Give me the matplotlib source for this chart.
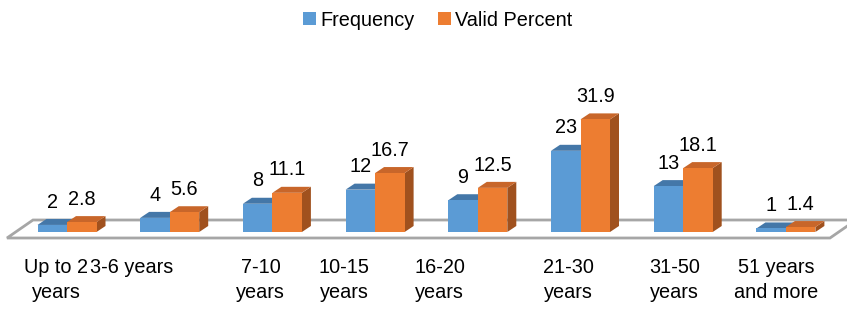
import matplotlib
matplotlib.use("Agg")
import matplotlib.pyplot as plt
from matplotlib.patches import Polygon
from matplotlib.patches import Patch

# ---- data ----
categories = ["Up to 2\nyears", "3-6 years", "7-10\nyears", "10-15\nyears",
              "16-20\nyears", "21-30\nyears", "31-50\nyears", "51 years\nand more"]
frequency = [2, 4, 8, 12, 9, 23, 13, 1]
valid_percent = [2.8, 5.6, 11.1, 16.7, 12.5, 31.9, 18.1, 1.4]
series_names = ["Frequency", "Valid Percent"]

# ---- style / layout ----
W, H = 847, 309
PX_PER_CAT = 102.7
PX_PER_UNIT = 3.53
X0_PX = 67          # pixel x of first category centre
Y0_PX = 232         # pixel y (from top) of value 0
BAR_W = 29.5 / PX_PER_CAT
DX = 9 / PX_PER_CAT          # depth offset x
DY = 6 / PX_PER_UNIT         # depth offset y
label_shift_px = [-11, -38, -12, -31, -38, -12, -9, -10]

front = ["#5B9BD5", "#ED7D31"]
top = ["#4477A8", "#C8662A"]
side = ["#3D6C98", "#A0511E"]
FONT = ["Liberation Sans", "DejaVu Sans"]
FS = 14.3
plt.rcParams["font.family"] = FONT

fig = plt.figure(figsize=(W / 100, H / 100), dpi=100)
ax = fig.add_axes([0, 0, 1, 1])
ax.set_xlim(-X0_PX / PX_PER_CAT, (W - X0_PX) / PX_PER_CAT)
ax.set_ylim(-(H - Y0_PX) / PX_PER_UNIT, Y0_PX / PX_PER_UNIT)
ax.axis("off")

# floor plate
fl_front_y = -6 / PX_PER_UNIT
fl_back_y = 12 / PX_PER_UNIT
fl_left = (7 - X0_PX) / PX_PER_CAT
fl_right = (830 - X0_PX) / PX_PER_CAT
fl_dx = 26 / PX_PER_CAT
floor = Polygon([(fl_left, fl_front_y), (fl_right, fl_front_y),
                 (fl_right + fl_dx, fl_back_y), (fl_left + fl_dx, fl_back_y)],
                closed=True, facecolor="white", edgecolor="#A6A6A6", lw=2, zorder=1)
ax.add_patch(floor)

def bar3d(x_left, h, k):
    xr = x_left + BAR_W
    ax.add_patch(Polygon([(xr, 0), (xr + DX, DY), (xr + DX, h + DY), (xr, h)],
                         closed=True, facecolor=side[k], edgecolor="none", zorder=2 + k))
    ax.add_patch(Polygon([(x_left, h), (xr, h), (xr + DX, h + DY), (x_left + DX, h + DY)],
                         closed=True, facecolor=top[k], edgecolor="none", zorder=2 + k))

for i in range(len(categories)):
    bar3d(i - BAR_W, frequency[i], 0)
    bar3d(i, valid_percent[i], 1)

ax.bar([i - BAR_W / 2 for i in range(len(categories))], frequency, width=BAR_W,
       color=front[0], zorder=2.5)
ax.bar([i + BAR_W / 2 for i in range(len(categories))], valid_percent, width=BAR_W,
       color=front[1], zorder=3.5)

# data labels
for i in range(len(categories)):
    for vals, xc in [(frequency, i - BAR_W / 2), (valid_percent, i + BAR_W / 2)]:
        v = vals[i]
        ax.annotate(f"{v:g}", (xc, v), xytext=(0, 12.5), textcoords="offset points",
                    ha="center", va="baseline", fontsize=FS, color="black", zorder=6)

# category labels
for i, lab in enumerate(categories):
    x = i + label_shift_px[i] / PX_PER_CAT
    ax.text(x, (Y0_PX - 258) / PX_PER_UNIT, lab, ha="center", va="top",
            fontsize=FS, linespacing=1.42, color="black")

handles = [Patch(facecolor=front[0]), Patch(facecolor=front[1])]
fig.legend(handles, series_names, loc="center", bbox_to_anchor=(438 / W, 1 - 20 / H),
           ncol=2, frameon=False, fontsize=FS, handlelength=0.65, handleheight=0.65,
           handletextpad=0.2, columnspacing=1.2)

fig.savefig("out.png", dpi=100)
